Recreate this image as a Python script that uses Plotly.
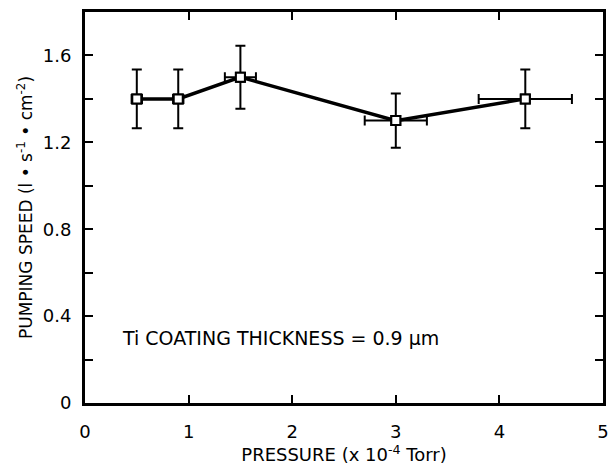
import plotly.graph_objects as go

pressure = [0.5, 0.9, 1.5, 3.0, 4.25]
pressure_err = [0.05, 0.05, 0.15, 0.3, 0.45]
speed = [1.4, 1.4, 1.5, 1.3, 1.4]
speed_err = [0.135, 0.135, 0.145, 0.125, 0.135]

y_tickvals = [0, 0.4, 0.8, 1.2, 1.6]
y_ticktext = ["0", "0.4", "0.8", "1.2", "1.6"]
y_minor_step = 0.2
x_tickvals = [0, 1, 2, 3, 4, 5]
x_ticktext = ["0", "1", "2", "3", "4", "5"]

FONT = "DejaVu Sans, Liberation Sans, Arial, sans-serif"

fig = go.Figure()
fig.add_trace(go.Scatter(
    x=pressure, y=speed,
    mode="lines+markers",
    line=dict(color="black", width=3.5),
    marker=dict(symbol="square-open", size=9, color="black",
                line=dict(width=2, color="black")),
    error_y=dict(type="data", array=speed_err, color="black", thickness=2, width=5),
    error_x=dict(type="data", array=pressure_err, color="black", thickness=2, width=5),
    showlegend=False,
))
# white fill inside markers
fig.add_trace(go.Scatter(
    x=pressure, y=speed, mode="markers",
    marker=dict(symbol="square", size=9, color="white",
                line=dict(width=2, color="black")),
    showlegend=False, hoverinfo="skip",
))

fig.add_annotation(
    x=0.34, y=0.3, xref="x", yref="y", xanchor="left", yanchor="middle",
    text="Ti COATING THICKNESS = 0.9 \u00b5m", showarrow=False,
    font=dict(family=FONT, size=19, color="black"),
)

fig.update_xaxes(
    range=[0, 5], tickvals=x_tickvals, ticktext=x_ticktext,
    ticks="inside", ticklen=8, tickwidth=2, tickcolor="black",
    showline=True, linewidth=3, linecolor="black", mirror="ticks",
    showgrid=False, zeroline=False, automargin=False,
    ticklabelstandoff=10, ticklabeloverflow="allow",
    tickfont=dict(family=FONT, size=18, color="black"),
    title=dict(text="PRESSURE (x 10<sup>-4</sup> Torr)",
               font=dict(family=FONT, size=18, color="black"), standoff=3),
)
fig.update_yaxes(
    range=[0, 1.8], tickvals=y_tickvals, ticktext=y_ticktext,
    ticks="inside", ticklen=8, tickwidth=2, tickcolor="black",
    minor=dict(ticks="inside", ticklen=8, tickwidth=2, tickcolor="black",
               dtick=y_minor_step, tick0=0, showgrid=False),
    showline=True, linewidth=3, linecolor="black", mirror="ticks",
    showgrid=False, zeroline=False, automargin=False,
    ticklabelstandoff=7,
    tickfont=dict(family=FONT, size=18, color="black"),
    title=dict(text="PUMPING SPEED (l \u2022 s<sup>-1</sup> \u2022 cm<sup>-2</sup>)",
               font=dict(family=FONT, size=17, color="black"), standoff=6),
)
fig.update_layout(
    width=609, height=470,
    margin=dict(l=85, r=6, t=12, b=67),
    paper_bgcolor="white", plot_bgcolor="white",
)
fig.write_html(
    "out.html",
    config={"displayModeBar": False},
    post_script="document.body.style.margin='0';document.body.style.padding='0';"
                "document.body.style.overflow='hidden';",
)
